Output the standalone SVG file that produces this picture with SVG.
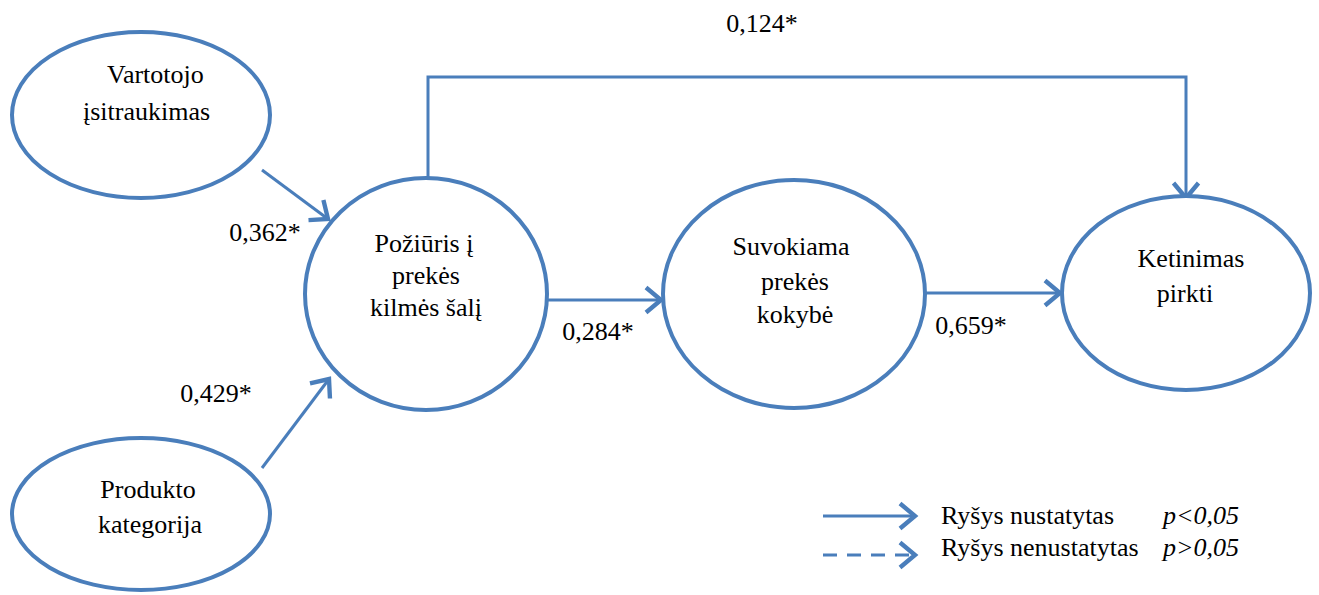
<svg xmlns="http://www.w3.org/2000/svg" width="1319" height="595" viewBox="0 0 1319 595">
<style>
.n{fill:#fff;stroke:#4a7ebb;stroke-width:4}
.c{fill:none;stroke:#4a7ebb;stroke-width:3}
</style>
<defs>
<marker id="a" markerUnits="userSpaceOnUse" markerWidth="30" markerHeight="30" refX="20" refY="12" orient="auto" viewBox="0 0 24 24">
<path d="M8,2 L20,12 L8,22" fill="none" stroke="#4a7ebb" stroke-width="3.5"/>
</marker>
</defs>
<rect width="1319" height="595" fill="#fff"/>
<g id="connectors">
<path class="c" d="M262,170 L328,219" marker-end="url(#a)"/>
<path class="c" d="M262,468 L329,379" marker-end="url(#a)"/>
<path class="c" d="M547,300 L661,300" marker-end="url(#a)"/>
<path class="c" d="M925,293 L1060,293" marker-end="url(#a)"/>
<path class="c" d="M428,182 L428,77 L1186,77 L1186,198" marker-end="url(#a)"/>
</g>
<g font-family="Times New Roman" font-size="26" fill="#000">
<g id="n1"><ellipse class="n" cx="141" cy="115" rx="129" ry="83"/>
<text x="107" y="83">Vartotojo</text><text x="83" y="120">įsitraukimas</text></g>
<g id="n2" text-anchor="middle"><ellipse class="n" cx="141" cy="514" rx="129" ry="76"/>
<text x="148" y="498">Produkto</text><text x="150" y="533">kategorija</text></g>
<g id="n3" text-anchor="middle"><ellipse class="n" cx="426" cy="294" rx="121" ry="116"/>
<text x="424" y="252">Požiūris į</text><text x="426" y="284">prekės</text><text x="426" y="316">kilmės šalį</text></g>
<g id="n4" text-anchor="middle"><ellipse class="n" cx="794" cy="294" rx="131" ry="114"/>
<text x="791" y="255">Suvokiama</text><text x="795" y="290">prekės</text><text x="795" y="323">kokybė</text></g>
<g id="n5" text-anchor="middle"><ellipse class="n" cx="1186" cy="293" rx="124" ry="97"/>
<text x="1191" y="267">Ketinimas</text><text x="1185" y="302">pirkti</text></g>
<g id="labels" text-anchor="middle">
<text x="762" y="32">0,124*</text>
<text x="265" y="241">0,362*</text>
<text x="216" y="402">0,429*</text>
<text x="598" y="340">0,284*</text>
<text x="971" y="334">0,659*</text>
</g>
<g id="legend">
<path class="c" d="M823,516 L915,516" marker-end="url(#a)"/>
<path class="c" d="M823,555 L915,555" stroke-dasharray="14,10" marker-end="url(#a)"/>
<text x="941" y="524">Ryšys nustatytas</text>
<text x="1163" y="524" font-style="italic">p&lt;0,05</text>
<text x="941" y="556">Ryšys nenustatytas</text>
<text x="1163" y="556" font-style="italic">p&gt;0,05</text>
</g>
</g>
</svg>
